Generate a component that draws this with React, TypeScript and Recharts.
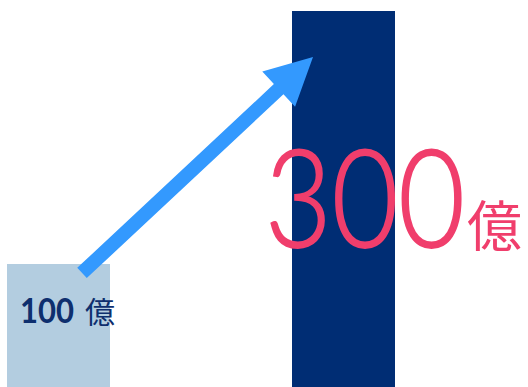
import React from 'react';
import { ComposedChart, Bar, Cell, XAxis, YAxis, ReferenceLine, LabelList } from 'recharts';

const categories = ['before', 'after'];
const values = [100, 300];
const positions = [0.5, 1.5];
const unitLabel = '億';
const barColors = ['#b3cde0', '#002d74'];
const labelColors = ['#0e2f6e', '#f03e6c'];
const arrowFrom = { x: 0.5825, y: 92.9 };
const arrowTo = { x: 1.393, y: 263.6 };

const data = categories.map((name, i) => ({ name, value: values[i], pos: positions[i] }));

const ArrowShape = (props: any) => {
  const { x1, y1, x2, y2 } = props;
  if ([x1, y1, x2, y2].some((v) => typeof v !== 'number' || isNaN(v))) return null;
  const dx = x2 - x1;
  const dy = y2 - y1;
  const len = Math.sqrt(dx * dx + dy * dy);
  const ux = dx / len;
  const uy = dy / len;
  const px = -uy;
  const py = ux;
  const shaft = 7;
  const headLen = 47;
  const headHalf = 24;
  const bx = x2 - ux * headLen;
  const by = y2 - uy * headLen;
  const pts = [
    [x1 + px * shaft, y1 + py * shaft],
    [bx + px * shaft, by + py * shaft],
    [bx + px * headHalf, by + py * headHalf],
    [x2, y2],
    [bx - px * headHalf, by - py * headHalf],
    [bx - px * shaft, by - py * shaft],
    [x1 - px * shaft, y1 - py * shaft],
  ];
  return <polygon points={pts.map((p) => p.join(',')).join(' ')} fill="#3399fe" />;
};

const renderLabel = (props: any) => {
  const { x, y, value, index } = props;
  if (index === 0) {
    return (
      <g>
        <text x={x + 13} y={y + 59} fill={labelColors[0]} fontFamily="Lato, 'Open Sans', sans-serif" fontWeight={700} fontSize={34} textLength={54} lengthAdjust="spacingAndGlyphs">
          {value}
        </text>
        <text x={x + 78} y={y + 59} fill={labelColors[0]} fontFamily="'Noto Sans CJK JP', sans-serif" fontSize={30}>
          {unitLabel}
        </text>
      </g>
    );
  }
  return (
    <g>
      <text x={x - 27} y={y + 236} fill={labelColors[1]} stroke={labelColors[1]} strokeWidth={2} fontFamily="Lato, 'Open Sans', sans-serif" fontWeight={300} fontSize={136} textLength={200} lengthAdjust="spacingAndGlyphs">
        {value}
      </text>
      <text x={x + 175} y={y + 235} fill={labelColors[1]} fontFamily="'Noto Sans CJK JP', sans-serif" fontSize={55}>
        {unitLabel}
      </text>
    </g>
  );
};

export default function App() {
  return (
    <div style={{ position: 'absolute', left: -84, top: 0 }}>
      <ComposedChart width={612} height={387} data={data} margin={{ top: 0, right: 42, bottom: -3.5, left: 0 }}>
        <XAxis xAxisId="cat" dataKey="name" type="category" hide />
        <XAxis xAxisId="num" dataKey="pos" type="number" domain={[0, 2]} allowDataOverflow hide />
        <YAxis domain={[0, 308.7]} allowDataOverflow hide />
        <Bar xAxisId="cat" dataKey="value" barSize={103} isAnimationActive={false}>
          {data.map((d, i) => (
            <Cell key={d.name} fill={barColors[i]} />
          ))}
          <LabelList dataKey="value" content={renderLabel} />
        </Bar>
        <ReferenceLine
          xAxisId="num"
          segment={[arrowFrom, arrowTo]}
          shape={ArrowShape}
          ifOverflow="visible"
        />
      </ComposedChart>
    </div>
  );
}
